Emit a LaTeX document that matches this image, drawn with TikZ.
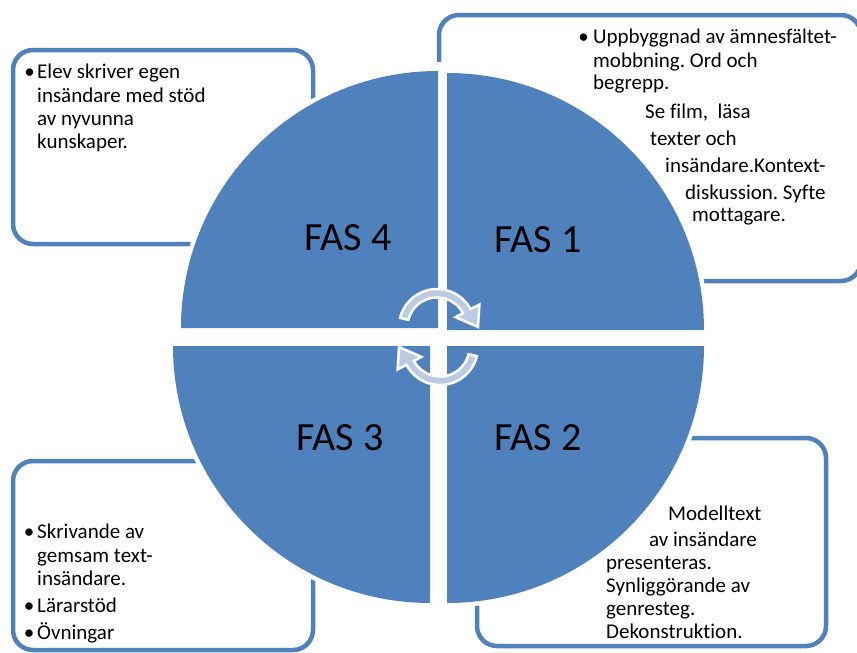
\documentclass[tikz,border=0pt]{standalone}
\usepackage{fontspec}
\setmainfont{Carlito}[Ligatures=NoCommon]
\frenchspacing
\definecolor{qblue}{HTML}{4F81BD}
\definecolor{arrowfill}{HTML}{BCCBE4}
\begin{document}
\begin{tikzpicture}[x=1pt,y=-1pt,
  infobox/.style={draw=qblue, line width=4.5pt, fill=white, rounded corners=20pt},
  quadfill/.style={fill=qblue},
  quadedge/.style={draw=white, line width=9pt, line join=round},
  txt/.style={anchor=base west, inner sep=0pt, font=\fontsize{21}{24}\selectfont},
  bul/.style={anchor=base, inner sep=0pt, font=\fontsize{21}{24}\selectfont},
  fas/.style={anchor=base, inner sep=0pt, font=\fontsize{40}{48}\selectfont},
  cyc/.style={fill=arrowfill, draw=white, line width=2.5pt, line join=miter}
]
\useasboundingbox[fill=white] (0,0) rectangle (857,653);

% info boxes
\draw[infobox] (13,50) rectangle (313,244);
\draw[infobox] (439,15) rectangle (861,281);
\draw[infobox] (13,461) rectangle (313,650);
\draw[infobox] (477,438) rectangle (826,646);

% white rims of the quadrants
\fill[white] (437,62) rectangle (448,335);
\path[quadedge] (438,328) -- (181,328) arc[start angle=180, end angle=270, radius=257] -- cycle;
\path[quadedge] (447,330) -- (447,73) arc[start angle=270, end angle=360, radius=257] -- cycle;
\path[quadedge] (447,346) -- (704,346) arc[start angle=0, end angle=90, radius=257] -- cycle;
\path[quadedge] (430,346) -- (430,603) arc[start angle=90, end angle=180, radius=257] -- cycle;
% quadrants
\path[quadfill] (438,328) -- (181,328) arc[start angle=180, end angle=270, radius=257] -- cycle;
\path[quadfill] (447,330) -- (447,73) arc[start angle=270, end angle=360, radius=257] -- cycle;
\path[quadfill] (447,346) -- (704,346) arc[start angle=0, end angle=90, radius=257] -- cycle;
\path[quadfill] (430,346) -- (430,603) arc[start angle=90, end angle=180, radius=257] -- cycle;

% cycle arrows
\begin{scope}[shift={(437,327)}]
\path[cyc] (-166:38) arc[start angle=-166, end angle=-28, radius=38] -- (-28:48) -- (0:41) -- (-28:21) -- (-28:29.5) arc[start angle=-28, end angle=-166, radius=29.5] -- cycle;
\end{scope}
\begin{scope}[shift={(440,347)}, rotate=180]
\path[cyc] (-166:38) arc[start angle=-166, end angle=-28, radius=38] -- (-28:48) -- (0:41) -- (-28:21) -- (-28:29.5) arc[start angle=-28, end angle=-166, radius=29.5] -- cycle;
\end{scope}

% phase labels
\node[fas] (fas4) at (348,250) {FAS 4};
\node[fas] (fas1) at (538,252) {FAS 1};
\node[fas] (fas3) at (340,450) {FAS 3};
\node[fas] (fas2) at (538,450) {FAS 2};

% box FAS 4
\node[bul] (b4a) at (29.5,78) {•};
\node[txt] (t4a) at (37,78) {Elev skriver egen};
\node[txt] (t4b) at (37,102) {insändare med stöd};
\node[txt] (t4c) at (37,125) {av nyvunna};
\node[txt] (t4d) at (37,148.5) {kunskaper.};

% box FAS 1
\node[bul] (b1a) at (583.5,43.5) {•};
\node[txt] (t1a) at (593,43.5) {Uppbyggnad av ämnesfältet-};
\node[txt] (t1b) at (593,67) {mobbning. Ord och};
\node[txt] (t1c) at (593,89.5) {begrepp.};
\node[txt] (t1d) at (645,118.5) {Se film,\ \ läsa};
\node[txt] (t1e) at (650,145) {texter och};
\node[txt] (t1f) at (665,172) {insändare.Kontext-};
\node[txt] (t1g) at (685,199) {diskussion. Syfte};
\node[txt] (t1h) at (692,221) {mottagare.};

% box FAS 3
\node[bul] (b3a) at (29,538.5) {•};
\node[txt] (t3a) at (37,538.5) {Skrivande av};
\node[txt] (t3b) at (37,562) {gemsam text-};
\node[txt] (t3c) at (37,585) {insändare.};
\node[bul] (b3b) at (29,612.5) {•};
\node[txt] (t3d) at (37,612.5) {Lärarstöd};
\node[bul] (b3c) at (29,639) {•};
\node[txt] (t3e) at (37,639) {Övningar};

% box FAS 2
\node[txt] (t2a) at (668,520) {Modelltext};
\node[txt] (t2b) at (649,546) {av insändare};
\node[txt] (t2c) at (606,569) {presenteras.};
\node[txt] (t2d) at (606,592) {Synliggörande av};
\node[txt] (t2e) at (606,615.5) {genresteg.};
\node[txt] (t2f) at (606,638.5) {Dekonstruktion.};
\end{tikzpicture}
\end{document}
